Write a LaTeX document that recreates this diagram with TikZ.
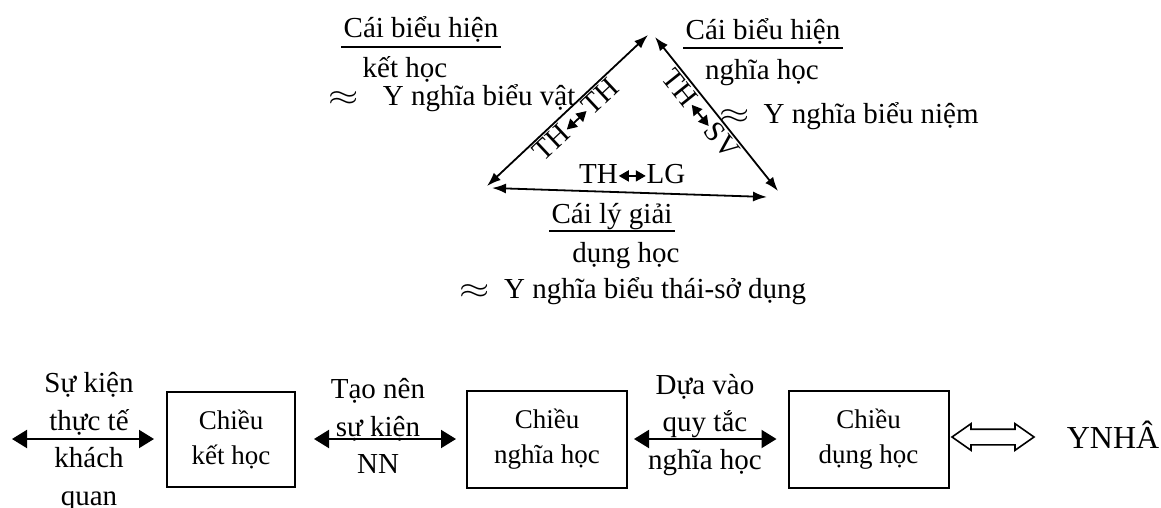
\documentclass[tikz,border=0pt]{standalone}
\usepackage{fontspec}
\setmainfont{Liberation Serif}
\usetikzlibrary{arrows.meta, shapes.arrows}
\tikzset{
  chu/.style        = {font=\fontsize{14.5}{18}\selectfont, inner sep=1pt},
  cot/.style        = {chu, align=center, font=\fontsize{14.5}{18.75}\selectfont},
  hop/.style        = {draw, line width=1pt, align=center, minimum width=80pt, minimum height=48.5pt, font=\fontsize{13.5}{17.5}\selectfont},
  canh/.style       = {line width=0.9pt, {Latex[length=7pt,width=5pt]}-{Latex[length=7pt,width=5pt]}},
  nhan/.style       = {chu, sloped, below, inner sep=1pt},
  muiten/.style     = {line width=1pt, {Triangle[length=7.5pt,width=9pt]}-{Triangle[length=7.5pt,width=9pt]}},
  gach/.style       = {line width=0.7pt},
  tuongduong/.style = {double arrow, draw, line width=0.8pt, inner xsep=0pt, inner ysep=3.5pt, minimum height=41pt, double arrow head extend=2.75pt, double arrow tip angle=70}
}
\newcommand{\haichieu}{\tikz[baseline=-0.6ex]\draw[line width=0.9pt,{Triangle[length=5pt,width=5.5pt]}-{Triangle[length=5pt,width=5.5pt]}] (0,0) -- (13.5pt,0);}
\newcommand{\xapxi}{\scalebox{1.35}[1]{$\approx$}}

\begin{document}
\begin{tikzpicture}[x=0.5pt, y=-0.5pt]
  \useasboundingbox (0,0) rectangle (1161,508);

  % tam giac
  \coordinate (trai)  at (487,186);
  \coordinate (dinh1) at (648,35);
  \coordinate (dinh2) at (655,37);
  \coordinate (phai)  at (778,191);
  \coordinate (day1)  at (492,188);
  \coordinate (day2)  at (767,197);

  \draw[canh] (trai) -- (dinh1) node[nhan, pos=0.5]  {TH\haichieu TH};
  \draw[canh] (dinh2) -- (phai) node[nhan, pos=0.45] {TH\haichieu SV};
  \draw[canh] (day1) -- (day2)  node[chu, pos=0.51, above=3pt] {TH\haichieu LG};

  % bieu hien ket hoc (trai)
  \node[chu, anchor=base] (bhk) at (421,38)  {Cái biểu hiện};
  \node[chu, anchor=base] (kh)  at (405,78)  {kết học};
  \node[chu, anchor=base] (ynv) at (452,105) {\xapxi\hspace{12pt}Y nghĩa biểu vật};
  \draw[gach] ([yshift=-4.5pt]bhk.base west) -- ([yshift=-4.5pt]bhk.base east);

  % bieu hien nghia hoc (phai)
  \node[chu, anchor=base] (bhn) at (763,40)  {Cái biểu hiện};
  \node[chu, anchor=base] (nh)  at (762,80)  {nghĩa học};
  \node[chu, anchor=base] (ynn) at (849,124) {\xapxi\hspace{7pt}Y nghĩa biểu niệm};
  \draw[gach] ([yshift=-4pt]bhn.base west) -- ([yshift=-4pt]bhn.base east);

  % ly giai dung hoc (duoi)
  \node[chu, anchor=base] (lg)  at (612,223) {Cái lý giải};
  \node[chu, anchor=base] (dh)  at (626,262) {dụng học};
  \node[chu, anchor=base] (ynt) at (633,298) {\xapxi\hspace{7pt}Y nghĩa biểu thái-sở dụng};
  \draw[gach] ([yshift=-4pt]lg.base west) -- ([yshift=-4pt]lg.base east);

  % ba chieu
  \node[hop, minimum width=64pt, minimum height=47.5pt] (kethoc) at (231,439) {Chiều\\kết học};
  \node[hop] (nghiahoc) at (547,439)   {Chiều\\nghĩa học};
  \node[hop] (dunghoc)  at (868.5,439) {Chiều\\dụng học};

  \coordinate (ngoai) at (12,439);
  \draw[muiten, shorten >=6pt] (ngoai) -- (kethoc.west);
  \draw[muiten, shorten <=9pt, shorten >=5pt] (kethoc.east) -- (nghiahoc.west);
  \draw[muiten, shorten <=3pt, shorten >=5.5pt] (nghiahoc.east) -- (dunghoc.west);

  \node[cot] (sukien) at (89,442)  {Sự kiện\\thực tế\\khách\\quan};
  \node[cot] (taonen) at (378,426) {Tạo nên\\sự kiện\\NN};
  \node[cot] (duavao) at (705,425) {Dựa vào\\quy tắc\\nghĩa học};

  \node[tuongduong] (mui) at (993,437) {};
  \node[chu, font=\fontsize{16}{19}\selectfont] (ynha) at (1113,435) {YNHÂ};
\end{tikzpicture}
\end{document}
